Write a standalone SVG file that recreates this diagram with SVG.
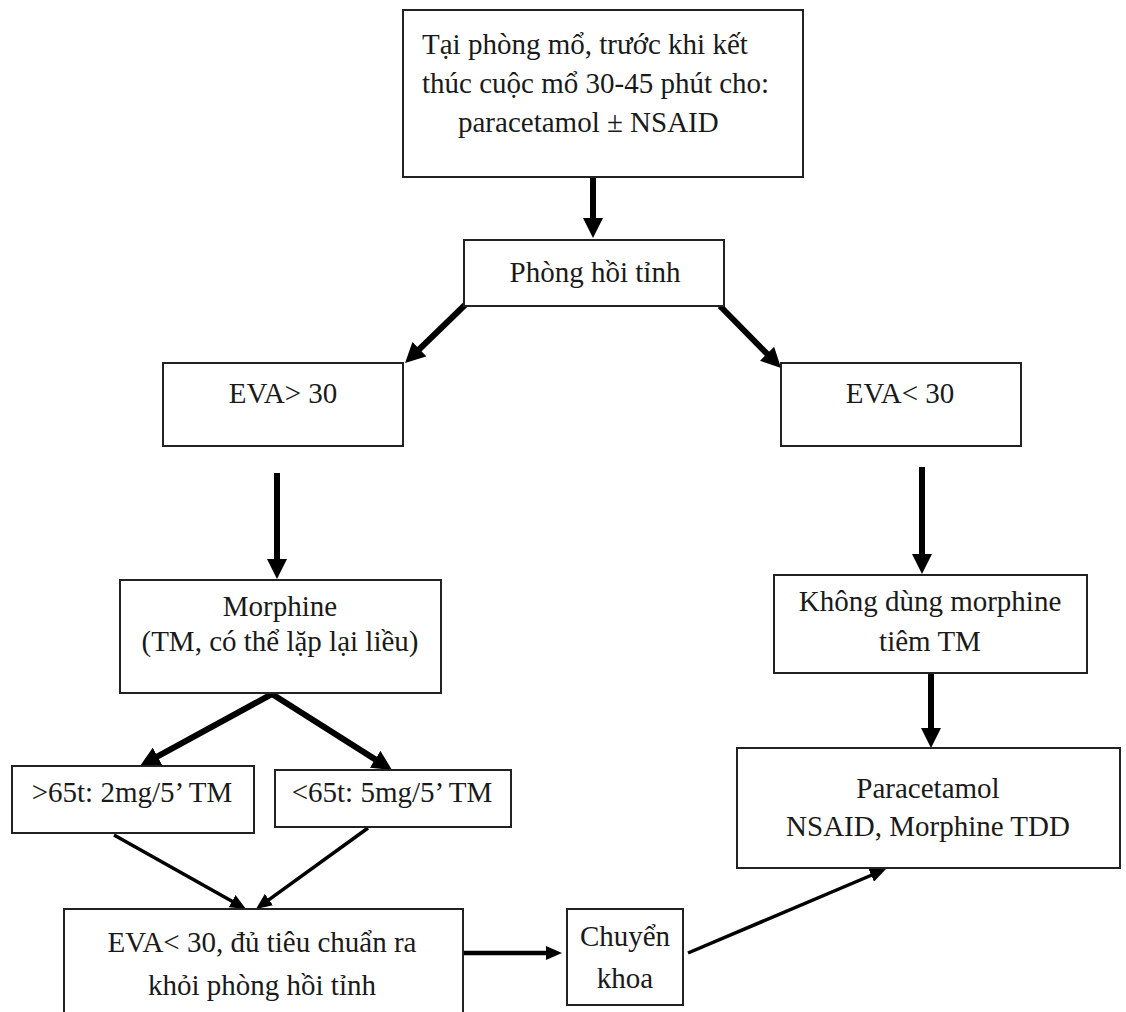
<svg xmlns="http://www.w3.org/2000/svg" width="1126" height="1012" viewBox="0 0 1126 1012">
<style>
.box{fill:#fff;stroke:#222;stroke-width:2}
.t{font-family:"Liberation Serif","Times New Roman",serif;font-size:29px;fill:#1a1a1a}
.c{text-anchor:middle}
.thick{stroke:#000;stroke-width:6;fill:none;marker-end:url(#big)}
.thin{stroke:#000;stroke-width:3.5;fill:none;marker-end:url(#small)}
</style>
<defs>
<marker id="big" markerUnits="userSpaceOnUse" markerWidth="20" markerHeight="20" viewBox="0 0 20 20" refX="2" refY="10" orient="auto"><path d="M0,0 L20,10 L0,20 z" fill="#000"/></marker>
<marker id="small" markerUnits="userSpaceOnUse" markerWidth="16" markerHeight="14" viewBox="0 0 16 14" refX="2" refY="7" orient="auto"><path d="M0,0 L16,7 L0,14 z" fill="#000"/></marker>
</defs>
<rect width="1126" height="1012" fill="#fff"/>
<g id="connectors">
<line class="thick" x1="593" y1="177" x2="593" y2="220"/>
<line class="thick" x1="467" y1="303" x2="418" y2="350.5"/>
<line class="thick" x1="720" y1="306" x2="768.4" y2="355.2"/>
<line class="thick" x1="277" y1="473" x2="277" y2="561"/>
<line class="thick" x1="922" y1="467" x2="922" y2="556"/>
<line class="thick" x1="931" y1="673" x2="931" y2="730"/>
<line class="thick" x1="272" y1="694" x2="155.8" y2="757.4"/>
<line class="thick" x1="272" y1="694" x2="376.8" y2="760.4"/>
<line class="thin" x1="114" y1="835" x2="233.8" y2="902.2"/>
<line class="thin" x1="368" y1="828" x2="267.3" y2="900.8"/>
<line class="thin" x1="463" y1="953" x2="548" y2="953" style="stroke-width:4.5"/>
<line class="thin" x1="688" y1="953" x2="873.1" y2="874.5"/>
</g>
<g id="n-start">
<rect class="box" x="403" y="10" width="400" height="167"/>
<text class="t" x="422" y="54">Tại phòng mổ, trước khi kết</text>
<text class="t" x="422" y="93">thúc cuộc mổ 30-45 phút cho:</text>
<text class="t" x="458" y="132">paracetamol ± NSAID</text>
</g>
<g id="n-recovery">
<rect class="box" x="464" y="240" width="260" height="66"/>
<text class="t c" x="595" y="282">Phòng hồi tỉnh</text>
</g>
<g id="n-eva-high">
<rect class="box" x="163" y="363" width="240" height="83"/>
<text class="t c" x="283" y="403">EVA&gt; 30</text>
</g>
<g id="n-eva-low">
<rect class="box" x="781" y="363" width="240" height="83"/>
<text class="t c" x="900" y="403">EVA&lt; 30</text>
</g>
<g id="n-morphine">
<rect class="box" x="120" y="580" width="321" height="113"/>
<text class="t c" x="280" y="616">Morphine</text>
<text class="t c" x="280" y="651">(TM, có thể lặp lại liều)</text>
</g>
<g id="n-no-morphine">
<rect class="box" x="774" y="575" width="313" height="98"/>
<text class="t c" x="930" y="611">Không dùng morphine</text>
<text class="t c" x="930" y="651">tiêm TM</text>
</g>
<g id="n-over65">
<rect class="box" x="12" y="766" width="242" height="67"/>
<text class="t c" x="132" y="802">&gt;65t: 2mg/5’ TM</text>
</g>
<g id="n-under65">
<rect class="box" x="275" y="770" width="236" height="57"/>
<text class="t c" x="392" y="802">&lt;65t: 5mg/5’ TM</text>
</g>
<g id="n-paracetamol">
<rect class="box" x="737" y="748" width="383" height="120"/>
<text class="t c" x="928" y="798">Paracetamol</text>
<text class="t c" x="928" y="836">NSAID, Morphine TDD</text>
</g>
<g id="n-discharge">
<rect class="box" x="64" y="909" width="399" height="110"/>
<text class="t c" x="262" y="952">EVA&lt; 30, đủ tiêu chuẩn ra</text>
<text class="t c" x="262" y="995">khỏi phòng hồi tỉnh</text>
</g>
<g id="n-transfer">
<rect class="box" x="567" y="909" width="116" height="96"/>
<text class="t c" x="625" y="946">Chuyển</text>
<text class="t c" x="625" y="988">khoa</text>
</g>
</svg>
